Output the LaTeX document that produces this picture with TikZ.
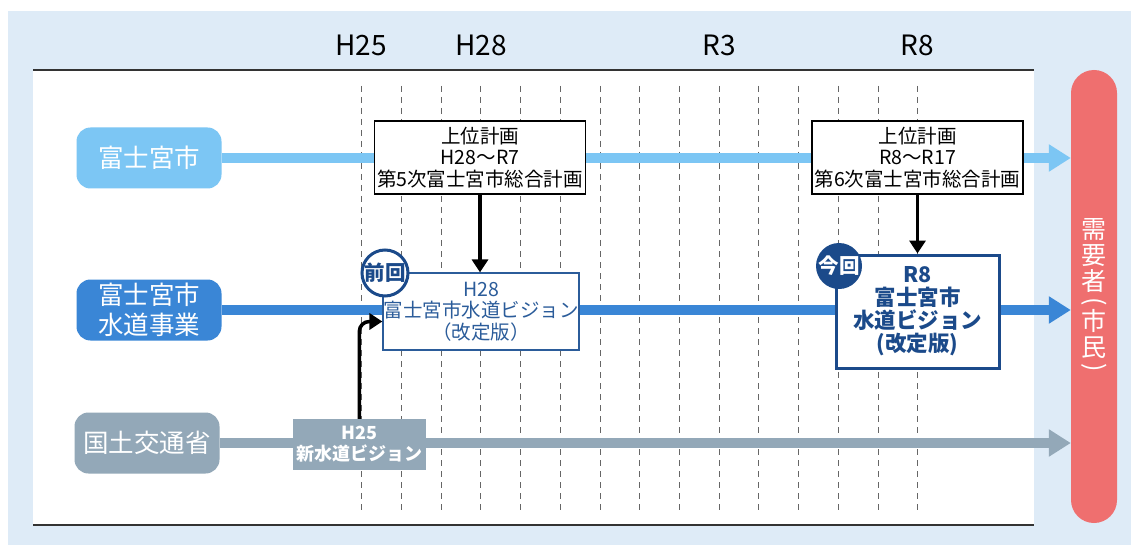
\documentclass[tikz,border=0pt]{standalone}
\usepackage{fontspec}
\setmainfont{Noto Sans CJK JP}
\usetikzlibrary{arrows.meta}
\definecolor{bgblue}{HTML}{DEEBF7}
\definecolor{cityblue}{HTML}{7CC6F4}
\definecolor{waterblue}{HTML}{3A86D6}
\definecolor{mlitgray}{HTML}{93A8B8}
\definecolor{navy}{HTML}{1B4A8A}
\definecolor{pastnavy}{HTML}{2B5C9A}
\definecolor{userred}{HTML}{EF6F6F}
\begin{document}
\begin{tikzpicture}[
    x=1pt, y=-1pt,
    year/.style={font=\fontsize{28}{32}\selectfont},
    pill/.style={rounded corners=14pt, text=white, minimum width=145pt,
      minimum height=61pt, inner sep=0pt, align=center,
      font=\fontsize{25.5}{30}\selectfont},
    flow/.style={line width=10pt, -{Triangle[length=22pt,width=26pt]}},
    planbox/.style={draw, line width=1.2pt, fill=white, inner sep=0pt,
      align=center, font=\fontsize{19.5}{21.5}\selectfont},
    link/.style={line width=3.5pt, -{Triangle[length=13pt,width=16pt]}},
    tag/.style={circle, minimum size=46pt, inner sep=0pt,
      font=\fontsize{20.5}{22}\bfseries\selectfont}
  ]
  \useasboundingbox (0,0) rectangle (1131,545);
  \fill[bgblue] (8,11) rectangle (1131,545);
  \fill[white] (33,70) rectangle (1034,525);
  \draw[line width=2pt, black!80] (33,70) -- (1034,70);
  \draw[line width=2pt, black!80] (33,525) -- (1034,525);

  % years
  \node[year] (h25) at (361,45) {H25};
  \node[year] (h28) at (481,45) {H28};
  \node[year] (r3) at (719,45) {R3};
  \node[year] (r8) at (917,45) {R8};
  \foreach \k in {0,...,14}
    \draw[black!60, line width=0.8pt, dash pattern=on 6pt off 5pt]
      (361.6+39.72*\k,86) -- (361.6+39.72*\k,510);

  % citizens
  \node[fill=userred, rounded corners=23pt, minimum width=46pt,
    minimum height=453pt, inner sep=0pt, text=white, align=center,
    font=\fontsize{25}{26}\selectfont] (users) at (1094,296.5)
    {需\\要\\者\\[-7pt]\rotatebox[origin=c]{-90}{(}\\[-5pt]市\\民\\[-7pt]\rotatebox[origin=c]{-90}{)}};

  % rows
  \node[pill, fill=cityblue] (city) at (149,158) {富士宮市};
  \node[pill, fill=waterblue] (water) at (149,310) {富士宮市\\水道事業};
  \node[pill, fill=mlitgray] (mlit) at (147,443) {国土交通省};
  \draw[flow, cityblue] (city.east) -- (city.east -| users.west);
  \draw[flow, waterblue] (water.east) -- (water.east -| users.west);
  \draw[flow, mlitgray] (mlit.east) -- (mlit.east -| users.west);

  % plans
  \node[planbox, minimum width=211pt, minimum height=73pt] (plan5) at (480,157.5)
    {上位計画\\H28～R7\\第5次富士宮市総合計画};
  \node[planbox, minimum width=211pt, minimum height=73pt] (plan6) at (917.5,157.5)
    {上位計画\\R8～R17\\第6次富士宮市総合計画};
  \node[planbox, draw=pastnavy, text=pastnavy, minimum width=196pt,
    minimum height=77pt] (prev) at (481,311.5)
    {H28\\富士宮市水道ビジョン\\（改定版）};
  \node[planbox, draw=navy, text=navy, line width=3pt, minimum width=163pt,
    minimum height=113pt, font=\fontsize{21.5}{23}\bfseries\selectfont] (curr) at (917.5,311.5)
    {R8\\富士宮市\\水道ビジョン\\(改定版)};
  \node[fill=mlitgray, text=white, minimum width=133pt, minimum height=51pt,
    inner sep=0pt, align=center, font=\fontsize{18}{21}\bfseries\selectfont]
    (vision) at (359.3,444.5) {H25\\新水道ビジョン};

  \node[tag, draw=navy, line width=3pt, fill=white, text=navy] (zenkai) at (385,273) {前回};
  \node[tag, fill=navy, text=white] (konkai) at (839,266) {今回};

  % links
  \draw[link] (plan5.south) -- (plan5.south |- prev.north);
  \draw[link] (plan6.south) -- (plan6.south |- curr.north);
  \draw[link, rounded corners=10pt] (vision.north) |- ([yshift=-10pt]prev.west);
\end{tikzpicture}
\end{document}
